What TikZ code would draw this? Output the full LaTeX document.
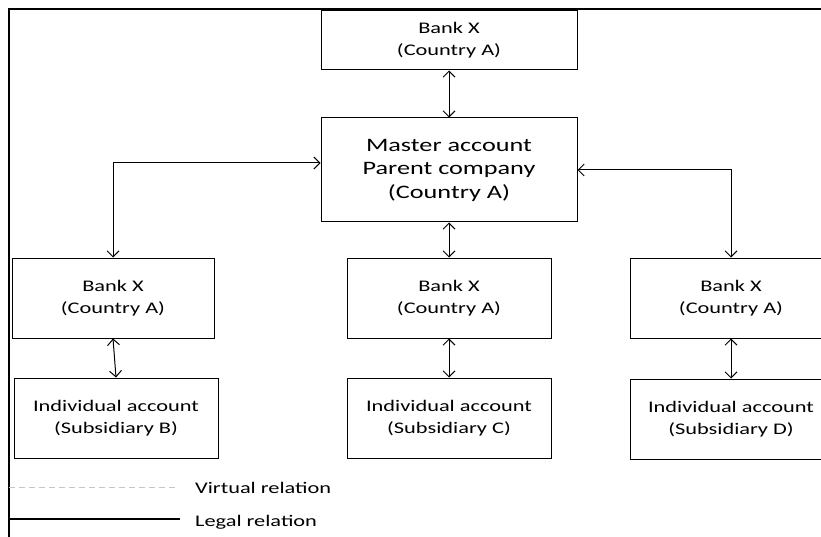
\documentclass[tikz,border=0pt]{standalone}
\usepackage{fontspec}
\setmainfont{Carlito}[FakeStretch=1.38]
\usepackage{tikz}
\usetikzlibrary{arrows.meta, positioning, calc}

\begin{document}
\begin{tikzpicture}[
    x=1pt, y=-1pt,
    box/.style={draw, line width=1pt, align=center, inner sep=0pt,
        minimum width=204pt, minimum height=80pt,
        font=\fontsize{16.2}{22}\selectfont},
    bigbox/.style={box, minimum width=256pt, font=\fontsize{19}{23.5}\selectfont},
    arrow/.style={{Straight Barb[length=6pt,width=12pt]}-{Straight Barb[length=6pt,width=12pt]}, line width=1pt},
    frame/.style={line width=2pt},
    legend/.style={anchor=west, inner sep=0pt, font=\fontsize{16.2}{22}\selectfont}
]
    \clip (0,0) rectangle (821,537);

    % outer frame
    \coordinate (corner) at (9,9);
    \coordinate (fr) at (821,9);
    \coordinate (fb) at (9,537);
    \draw[frame] (fr) -- (corner) -- (fb);

    % top row
    \node[box, minimum width=256pt, minimum height=59pt] (bank) at (449,40.5) {Bank X\\(Country A)};
    \node[bigbox, minimum height=104pt] (master) at (449,170) {Master account\\Parent company\\(Country A)};

    % banks
    \node[box, minimum width=202pt] (bankl) at (113,298) {Bank X\\(Country A)};
    \node[box] (bankm) at (449,298) {Bank X\\(Country A)};
    \node[box, minimum width=202pt] (bankr) at (731,298) {Bank X\\(Country A)};

    % accounts
    \node[box] (indl) at (116,418) {Individual account\\(Subsidiary B)};
    \node[box] (indm) at (449,418) {Individual account\\(Subsidiary C)};
    \node[box, minimum width=202pt] (indr) at (731,419) {Individual account\\(Subsidiary D)};

    \draw[arrow] (bank) -- (master);
    \draw[arrow] (master) -- (bankm);
    \draw[arrow] ([yshift=7pt]master.west) -| (bankl.north);
    \draw[arrow] (master.east) -| (bankr.north);
    \draw[arrow] (bankl.south) -- (indl.north);
    \draw[arrow] (bankm) -- (indm);
    \draw[arrow] (bankr) -- (indr);

    % legend
    \coordinate (v0) at (9,487);
    \coordinate (v1) at (177,487);
    \coordinate (l0) at (9,519);
    \coordinate (l1) at (180,519);
    \draw[gray!45, line width=1pt, dash pattern=on 6pt off 4pt] (v0) -- (v1);
    \draw[line width=2pt] (l0) -- (l1);
    \node[legend] (vtext) at (195,488) {Virtual relation};
    \node[legend] (ltext) at (195,522) {Legal relation};
\end{tikzpicture}
\end{document}
